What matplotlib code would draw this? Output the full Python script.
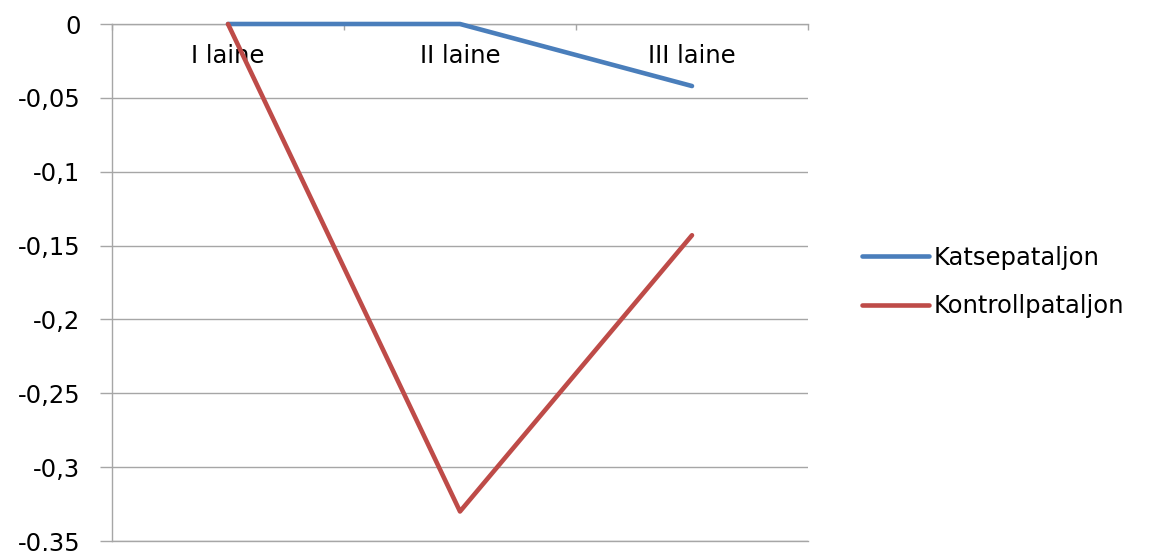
import matplotlib.pyplot as plt
from matplotlib.ticker import FixedLocator, FuncFormatter

# Data
waves = ['I laine', 'II laine', 'III laine']
katse = [0.0, 0.0, -0.042]
kontroll = [0.0, -0.33, -0.143]

blue = '#4A7EBB'
red = '#BE4B48'
grid_gray = '#A6A6A6'

plt.rcParams['font.family'] = 'DejaVu Sans'
plt.rcParams['font.size'] = 17.5

fig = plt.figure(figsize=(11.53, 5.51), dpi=100)
ax = fig.add_axes([112 / 1153, 1 - 541 / 551, 696 / 1153, 517 / 551])

x = list(range(len(waves)))
ax.plot(x, katse, color=blue, lw=3.3, label='Katsepataljon', solid_capstyle='round', zorder=3, clip_on=False)
ax.plot(x, kontroll, color=red, lw=3.3, label='Kontrollpataljon', solid_capstyle='round', zorder=3, clip_on=False)

ax.set_xlim(-0.5, len(waves) - 0.5)
ax.set_ylim(-0.35, 0)

# y axis: decimal comma, outward ticks, horizontal gridlines
yt = [0, -0.05, -0.1, -0.15, -0.2, -0.25, -0.3, -0.35]
ax.yaxis.set_major_locator(FixedLocator(yt))
ax.yaxis.set_major_formatter(FuncFormatter(lambda v, p: ('%g' % round(v, 2)).replace('.', ',')))
ax.tick_params(axis='y', length=8.6, width=1, color=grid_gray, pad=14, labelsize=17.5)
ax.grid(axis='y', color=grid_gray, lw=1)

# category axis sits on the zero line, labels just underneath it
ax.xaxis.set_ticks_position('top')
ax.set_xticks(x)
ax.set_xticklabels(waves)
ax.set_xticks([i - 0.5 for i in range(len(waves) + 1)], minor=True)
ax.tick_params(axis='x', which='major', length=0, pad=-32, labelsize=17.5)
ax.tick_params(axis='x', which='minor', length=4.5, width=1, color=grid_gray, direction='in')

for side in ['top', 'left', 'bottom']:
    ax.spines[side].set_color(grid_gray)
    ax.spines[side].set_linewidth(1)
ax.spines['right'].set_visible(False)

leg = ax.legend(loc='center left', bbox_to_anchor=(850 / 1153, 1 - 282 / 551),
                bbox_transform=fig.transFigure, frameon=False, fontsize=17.5,
                handlelength=2.75, handletextpad=0.2, labelspacing=1.0, borderpad=0)
for line in leg.get_lines():
    line.set_linewidth(3.3)

fig.savefig('out.png', dpi=100)
